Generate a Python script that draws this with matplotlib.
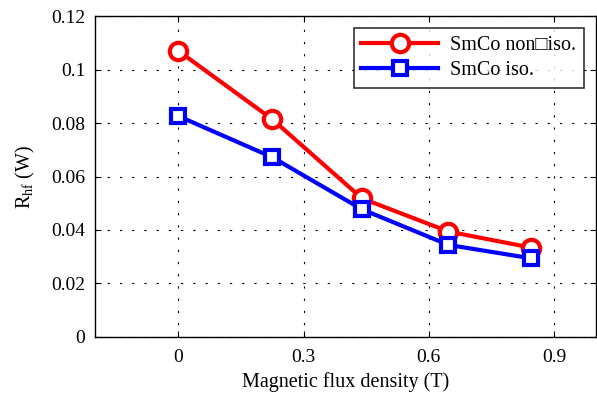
import matplotlib
matplotlib.use("Agg")
import matplotlib.pyplot as plt

# values
flux = [0, 0.225, 0.44, 0.647, 0.845]
r_non_iso = [0.107, 0.0814, 0.0518, 0.0394, 0.0334]
r_iso = [0.0826, 0.0672, 0.0477, 0.0344, 0.0294]
x_ticks = [0, 0.3, 0.6, 0.9]
y_ticks = [0, 0.02, 0.04, 0.06, 0.08, 0.1, 0.12]
y_tick_labels = ["0", "0.02", "0.04", "0.06", "0.08", "0.1", "0.12"]

plt.rcParams['font.family'] = ['Liberation Serif', 'DejaVu Serif']
plt.rcParams['mathtext.fontset'] = 'custom'
plt.rcParams['mathtext.rm'] = 'Liberation Serif'
plt.rcParams['mathtext.it'] = 'Liberation Serif:italic'

fig = plt.figure(figsize=(5.97, 3.94), dpi=100)
ax = fig.add_axes([0.159, 0.145, 0.839, 0.814])

ax.plot(flux, r_non_iso, color='red', lw=3.0, marker='o', ms=12.5, mfc='white',
        mec='red', mew=3.0, label='SmCo non\u25a1iso.')
ax.plot(flux, r_iso, color='blue', lw=3.0, marker='s', ms=10.5, mfc='white',
        mec='blue', mew=3.0, label='SmCo iso.')

ax.set_xlim(-0.2, 1.0)
ax.set_ylim(0, 0.12)
ax.set_xticks(x_ticks)
ax.set_xticklabels([str(t) for t in x_ticks])
ax.set_yticks(y_ticks)
ax.set_yticklabels(y_tick_labels)
ax.tick_params(direction='in', top=True, right=True, labelsize=14, length=4)
ax.tick_params(axis='x', pad=9)
ax.tick_params(axis='y', pad=7)
ax.grid(True, color='black', linestyle=(0, (2, 9)), linewidth=0.8)
for s in ax.spines.values():
    s.set_linewidth(1.0)

ax.set_xlabel('Magnetic flux density (T)', fontsize=14.5, labelpad=4)
ax.set_ylabel(r'R$_{\rm hf}$ (W)', fontsize=14.5, labelpad=10)

leg = ax.legend(loc='upper right', fontsize=14.5, handlelength=3.8, frameon=True,
                fancybox=False, edgecolor='black', borderaxespad=0.6,
                labelspacing=0.3, handletextpad=0.6, borderpad=0.38)
leg.get_frame().set_linewidth(1.2)

fig.savefig('out.png', dpi=100)
